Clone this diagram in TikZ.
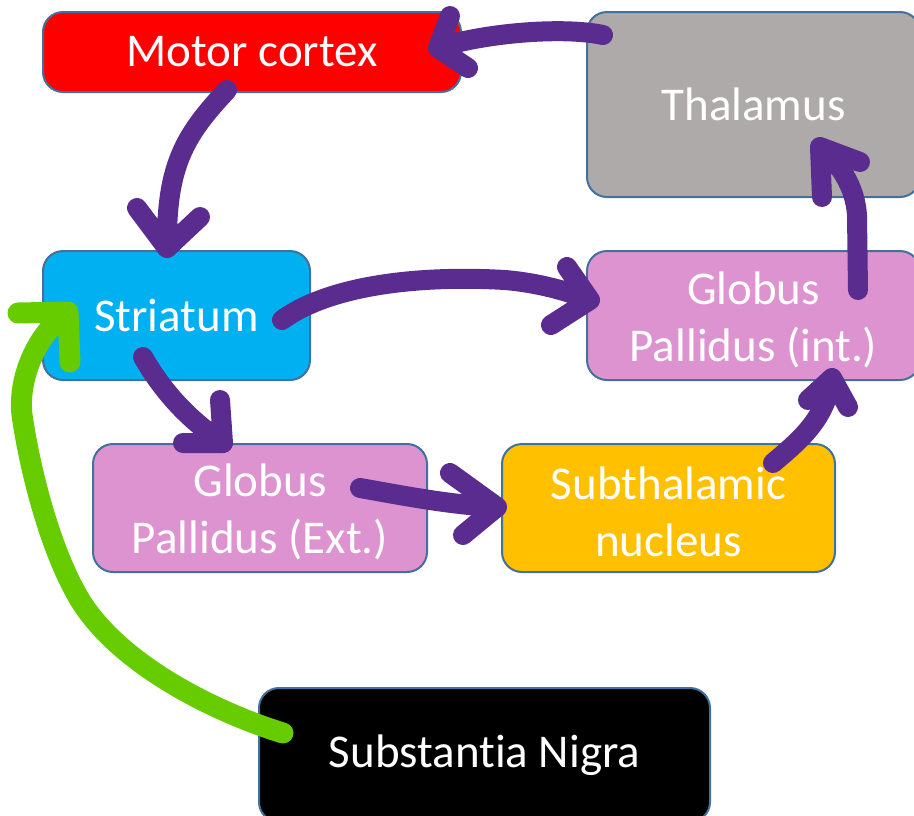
\documentclass[tikz,border=0pt]{standalone}
\usepackage{fontspec}
\setmainfont[Ligatures=NoCommon]{Carlito}
\usetikzlibrary{calc}
\definecolor{boxedge}{HTML}{41719C}
\definecolor{mcred}{HTML}{FF0000}
\definecolor{thalgrey}{HTML}{AEAAAA}
\definecolor{strcyan}{HTML}{00B0F0}
\definecolor{gppink}{HTML}{DE93D1}
\definecolor{stnorange}{HTML}{FFC000}
\definecolor{arrpurple}{HTML}{5B2C8F}
\definecolor{arrgreen}{HTML}{66CC00}
\begin{document}
\begin{tikzpicture}[x=1pt,y=-1pt,
  box/.style={draw=boxedge, line width=2pt, rounded corners=20pt, text=white,
    align=center, inner sep=0pt, font=\fontsize{47}{57}\selectfont},
  pline/.style={draw=arrpurple, line width=20pt, line cap=round, line join=round},
  gline/.style={draw=arrgreen, line width=21pt, line cap=round, line join=round}]
\useasboundingbox (0,0) rectangle (914,815);
\clip (0,0) rectangle (914,815);

\node[box, fill=mcred, minimum width=418pt, minimum height=80pt] (mc) at (252,52) {Motor cortex};
\node[box, fill=thalgrey, minimum width=333pt, minimum height=185pt] (thal) at (753.5,104.5) {Thalamus};
\node[box, fill=strcyan, minimum width=267pt, minimum height=129pt] (str) at (176.5,315.5) {Striatum};
\node[box, fill=gppink, minimum width=333pt, minimum height=129pt] (gpi) at (753.5,315.5) {\rule{0pt}{41pt}Globus\\Pallidus (int.)};
\node[box, fill=gppink, minimum width=334pt, minimum height=128pt] (gpe) at (260,508) {\rule{0pt}{41pt}Globus\\Pallidus (Ext.)};
\node[box, fill=stnorange, minimum width=333pt, minimum height=128pt] (stn) at (668.5,508) {\rule{0pt}{41pt}Subthalamic\\nucleus};
\node[box, fill=black, minimum width=451pt, minimum height=134pt] (sn) at (484.5,755) {Substantia Nigra};

% Thalamus -> Motor cortex
\coordinate (t1s) at ($(thal.center)+(-150.5,-69.5)$);
\coordinate (t1e) at ($(mc.center)+(186,-4)$);
\draw[pline] (t1s) .. controls (560,26) and (480,34) .. (t1e) -- +(12,-32) (t1e) -- +(30,20);

% Motor cortex -> Striatum
\coordinate (t2s) at ($(mc.center)+(-25,38)$);
\coordinate (t2e) at ($(str.center)+(-9.5,-67.5)$);
\draw[pline] (t2s) .. controls (185,135) and (166,165) .. (t2e) -- +(-30,-40) (t2e) -- +(33,-31);

% Striatum -> GP int
\coordinate (t3s) at ($(str.center)+(105.5,4.5)$);
\coordinate (t3e) at ($(gpi.center)+(-163.5,-15.5)$);
\draw[pline] (t3s) .. controls (330,285) and (420,275) .. (505,280) .. controls (540,283) and (570,292) .. (t3e) -- +(-23,-33) (t3e) -- +(-39,25);

% Striatum -> GP ext
\coordinate (t4s) at ($(str.center)+(-33.5,41.5)$);
\coordinate (t4e) at ($(gpe.center)+(-37,-65)$);
\draw[pline] (t4s) .. controls (165,395) and (190,420) .. (t4e) -- +(-3,-43) (t4e) -- +(-40,0);

% GP ext -> Subthalamic nucleus
\coordinate (t5s) at ($(gpe.center)+(100,-20)$);
\coordinate (t5e) at ($(stn.center)+(-171.5,-1)$);
\draw[pline] (t5s) .. controls (400,495) and (450,505) .. (t5e) -- +(-47,-34) (t5e) -- +(-34,28);

% Subthalamic nucleus -> GP int
\coordinate (t6s) at ($(stn.center)+(104.5,-45)$);
\coordinate (t6e) at ($(gpi.center)+(78.5,62.5)$);
\draw[pline] (t6s) .. controls (800,440) and (825,420) .. (t6e) -- +(-24,22) (t6e) -- +(16,29);

% GP int -> Thalamus
\coordinate (t7s) at ($(gpi.center)+(104.5,-25.5)$);
\coordinate (t7e) at ($(thal.center)+(66.5,42.5)$);
\draw[pline] (t7s) -- (857,215) .. controls (855,185) and (838,162) .. (t7e) -- +(2,50) (t7e) -- +(40,15);

% Substantia Nigra -> Striatum
\coordinate (g1s) at ($(sn.center)+(-201.5,-22)$);
\coordinate (g1e) at ($(str.center)+(-108.5,-3.5)$);
\draw[gline] (g1s) .. controls (215,712) and (120,665) .. (80,600)
  .. controls (50,550) and (30,470) .. (22,415)
  .. controls (18,380) and (35,335) .. (g1e) -- +(-50,1) (g1e) -- +(2,50);
\end{tikzpicture}
\end{document}
